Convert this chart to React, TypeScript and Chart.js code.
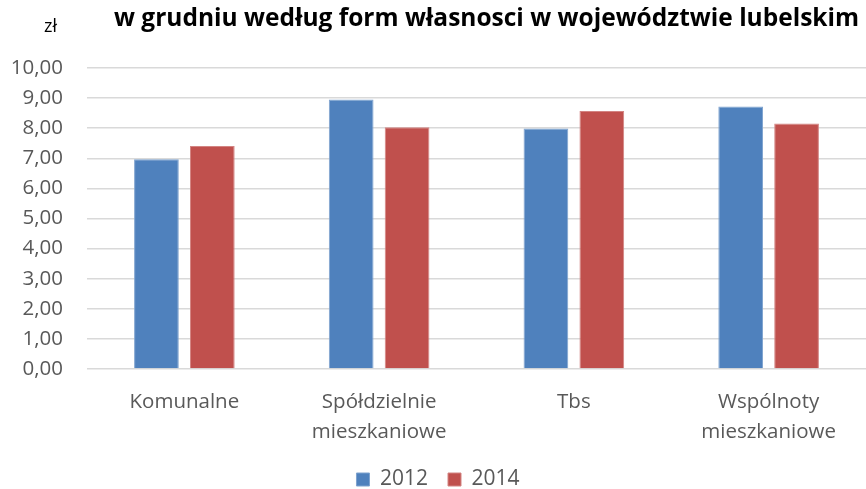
import React, { useEffect, useRef } from "react";
import { Chart, registerables } from "chart.js";

Chart.register(...registerables);

const categories: (string | string[])[] = [
  "Komunalne",
  ["Spółdzielnie", "mieszkaniowe"],
  "Tbs",
  ["Wspólnoty", "mieszkaniowe"],
];
const series2012 = [6.97, 8.95, 7.99, 8.72];
const series2014 = [7.41, 8.03, 8.57, 8.16];
const seriesLabels = ["2012", "2014"];
const titleText = "w grudniu według form własnosci w województwie lubelskim";
const unitText = "zł";

const FONT = "'Open Sans', 'DejaVu Sans', sans-serif";

export default function App() {
  const ref = useRef<HTMLCanvasElement | null>(null);
  useEffect(() => {
    document.body.style.margin = "0";
    const canvas = ref.current!;
    const titlePlugin = {
      id: "customTitle",
      afterDraw(chart: any) {
        const ctx = chart.ctx;
        ctx.save();
        ctx.fillStyle = "#000000";
        ctx.textBaseline = "alphabetic";
        ctx.textAlign = "left";
        ctx.font = `bold 24.5px ${FONT}`;
        ctx.fillText(titleText, 114, 26);
        ctx.font = `18px ${FONT}`;
        ctx.fillStyle = "#000000";
        ctx.fillText(unitText, 44, 32);
        ctx.restore();
      },
    };
    const chart = new Chart(canvas, {
      type: "bar",
      data: {
        labels: categories,
        datasets: [
          {
            label: seriesLabels[0],
            data: series2012,
            backgroundColor: "#4F81BD",
            borderColor: "#7FA3CF",
            borderWidth: 1,
          },
          {
            label: seriesLabels[1],
            data: series2014,
            backgroundColor: "#C0504D",
            borderColor: "#D38482",
            borderWidth: 1,
          },
        ],
      },
      options: {
        responsive: false,
        animation: false,
        maintainAspectRatio: false,
        layout: { padding: { top: 68, right: 0, left: 10, bottom: -11 } },
        datasets: { bar: { categoryPercentage: 0.574, barPercentage: 0.8 } },
        plugins: {
          title: { display: false },
          tooltip: { enabled: false },
          legend: {
            position: "bottom",
            labels: {
              boxWidth: 13,
              boxHeight: 13,
              padding: 20,
              color: "#595959",
              font: { family: FONT, size: 21 },
            },
          },
        },
        scales: {
          x: {
            grid: { display: false, drawTicks: false },
            border: { display: false },
            ticks: {
              color: "#595959",
              font: { family: FONT, size: 20.5, lineHeight: 1.47 },
              padding: 18,
              maxRotation: 0,
              autoSkip: false,
            },
            afterFit: (scale: any) => {
              scale.height = 80;
            },
          },
          y: {
            min: 0,
            max: 10,
            grid: { color: "#D9D9D9", lineWidth: 1.5, drawTicks: false },
            border: { display: false },
            ticks: {
              stepSize: 1,
              color: "#595959",
              font: { family: FONT, size: 20.5 },
              padding: 24,
              callback: (v: any) => Number(v).toFixed(2).replace(".", ","),
            },
            afterFit: (scale: any) => {
              scale.width = 77;
            },
          },
        },
      },
      plugins: [titlePlugin],
    });
    return () => chart.destroy();
  }, []);
  return (
    <div style={{ width: 866, height: 489 }}>
      <canvas ref={ref} width={866} height={489} style={{ display: "block" }} />
    </div>
  );
}
